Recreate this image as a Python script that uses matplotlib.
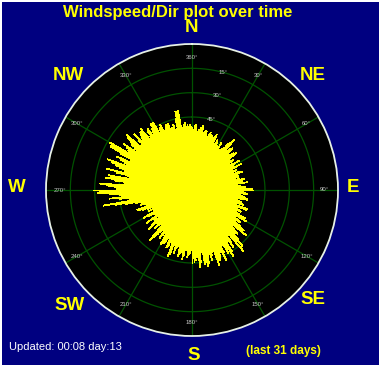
import numpy as np
import matplotlib
matplotlib.use('Agg')
import matplotlib.pyplot as plt
from matplotlib.patches import Rectangle

W, H = 382, 368

# wind readings: direction (deg, clockwise from N) and speed, outer ring = 30
directions = np.arange(0, 360, 1)
speeds = [
    13, 12, 12.5, 13.5, 13.5, 11.5, 12, 12.5, 13, 12.5,
    13.5, 11.5, 12, 12.5, 12.5, 11, 11.5, 12, 12.5, 12,
    12, 11.5, 11, 12, 12.5, 10, 10.5, 11.5, 11, 10.5,
    10, 10.5, 11.5, 9, 9.5, 10, 10.5, 11, 12, 12.5,
    13.5, 10.5, 10, 11.5, 12, 9, 9.5, 10.5, 11, 11.5,
    12, 9.5, 9, 10, 10.5, 8.5, 8.5, 10, 11.5, 10,
    9, 10, 11.5, 8.5, 8.5, 9.5, 10, 9, 9, 10.5,
    11, 9.5, 9, 10, 10, 8.5, 8.5, 10, 11, 10.5,
    10, 10.5, 11.5, 9, 9.5, 10, 10.5, 11, 11, 12.5,
    12.5, 10, 10.5, 11, 11.5, 9.5, 10, 10.5, 11, 11.5,
    11.5, 9, 9.5, 10, 10.5, 10.5, 11, 9.5, 9.5, 12,
    12, 9.5, 10, 10.5, 11, 9, 9.5, 11, 12.5, 11.5,
    13, 10, 10.5, 11.5, 12, 10.5, 11, 12.5, 13.5, 13,
    14.5, 10.5, 11, 12, 13, 12, 12.5, 14, 15.5, 14,
    16.5, 11.5, 12, 13.5, 14.5, 12.5, 13, 15, 16, 14,
    15, 12.5, 13, 14.5, 16, 13.5, 14, 15, 15.5, 15.5,
    16.5, 13, 13.5, 14, 15, 13.5, 14, 15.5, 16, 15,
    15.5, 12.5, 13, 15, 16, 13.5, 14, 14.5, 15, 14,
    15, 12.5, 13, 13.5, 14, 12, 12.5, 13.5, 14.5, 13,
    13, 13.5, 14, 11.5, 12, 12.5, 13.5, 12, 12, 14,
    14.5, 11, 11.5, 12.5, 13, 10.5, 11, 12, 12.5, 12.5,
    13, 10, 10.5, 11, 12, 9.5, 10, 11, 11.5, 12.5,
    13.5, 9, 9.5, 10, 11, 8.5, 9, 10, 12, 11,
    10, 8, 8.5, 10, 11.5, 8, 8.5, 9, 9.5, 10.5,
    11.5, 8, 8.5, 9, 10, 8.5, 9, 10, 11, 11.5,
    12, 9, 9.5, 10, 11, 10, 10.5, 12, 14, 16,
    18.5, 12.5, 13, 15, 17, 14.5, 15, 17, 19.5, 19,
    20.3, 15.5, 16, 17.5, 19, 13.5, 14, 16, 18, 17,
    17.5, 13, 13.5, 16, 18, 14, 14.5, 15.5, 16.5, 17.5,
    18.5, 14.5, 15, 16, 17, 13.5, 14, 16.5, 19, 19,
    19.5, 15, 15.5, 16, 17, 14, 14.5, 15.5, 16, 17,
    17.5, 13.5, 14, 15, 16.5, 14.5, 15, 15.5, 16, 16,
    16.5, 13.5, 14, 15, 15.5, 14, 14.5, 15, 16, 16,
    16, 13.5, 14, 14.5, 15, 13, 13.5, 14, 14.5, 14.5,
    14.5, 13, 13.5, 13.5, 14, 12.5, 13, 15, 16.5, 16.5,
    16.5, 12.5, 13, 13.5, 14, 13, 13.5, 13, 13.5, 13,
]

ring_levels = [5, 10, 15, 20, 25]
ring_labels = ['75°', '60°', '45°', '30°', '15°']
spoke_angles = list(range(0, 360, 30))
spoke_labels = ['360°'] + [f'{a}°' for a in spoke_angles[1:]]
compass = ['N', 'NE', 'E', 'SE', 'S', 'SW', 'W', 'NW']
compass_px = [(191, 27), (313, 75), (353, 187), (313, 300),
              (194, 355), (70, 305), (17, 187), (68, 75)]

title = 'Windspeed/Dir plot over time'
updated = 'Updated: 00:08 day:13'
period = '(last 31 days)'

navy = '#000080'
yellow = '#FFFF00'
green = '#005200'
rmax = 30


def fx(x):
    return x / W


def fy(y):
    return 1 - y / H


plt.rcParams['font.family'] = ['Liberation Sans', 'DejaVu Sans']

fig = plt.figure(figsize=(W / 100, H / 100), dpi=100, facecolor='white')
fig.patches.append(Rectangle((2 / W, 3 / H), 377 / W, 363 / H, transform=fig.transFigure,
                             facecolor=navy, edgecolor='none', zorder=-10))

cx, cy, rad = 192, 190, 146
ax = fig.add_axes([fx(cx - rad), fy(cy + rad), 2 * rad / W, 2 * rad / H], projection='polar')
ax.set_zorder(2)
ax.set_facecolor('black')
ax.set_theta_zero_location('N')
ax.set_theta_direction(-1)
ax.set_ylim(0, rmax)
ax.set_xticks([])
ax.set_yticks([])
ax.grid(False)
ax.spines['polar'].set_color('#E6F0E6')
ax.spines['polar'].set_linewidth(1.3)

th = np.linspace(0, 2 * np.pi, 361)
for r, lab in zip(ring_levels, ring_labels):
    ax.plot(th, np.full_like(th, r), color=green, lw=0.9, zorder=1)
    ax.text(np.deg2rad(15), r, lab, color='#C8C8C8', fontsize=4.3,
            ha='center', va='center', zorder=2)
for a, lab in zip(spoke_angles, spoke_labels):
    ax.plot([np.deg2rad(a)] * 2, [0, rmax], color=green, lw=0.9, zorder=1)
    ax.text(np.deg2rad(a), 27.2, lab, color='#C8C8C8', fontsize=4.3,
            ha='center', va='center', zorder=2)

ax.vlines(np.deg2rad(directions), 0, speeds, colors=yellow, linewidth=0.55,
          antialiased=False, zorder=3)

for lab, (x, y) in zip(compass, compass_px):
    fig.text(fx(x), fy(y), lab, color=yellow, fontsize=13.5, fontweight='bold',
             ha='center', va='center')

fig.text(fx(178), fy(12), title, color=yellow, fontsize=12, fontweight='bold',
         ha='center', va='center')
fig.text(fx(9), fy(347), updated, color='white', fontsize=8, ha='left', va='center')
fig.text(fx(283), fy(351), period, color=yellow, fontsize=8.5, fontweight='bold',
         ha='center', va='center')

fig.savefig('out.png', dpi=100, facecolor='white')
